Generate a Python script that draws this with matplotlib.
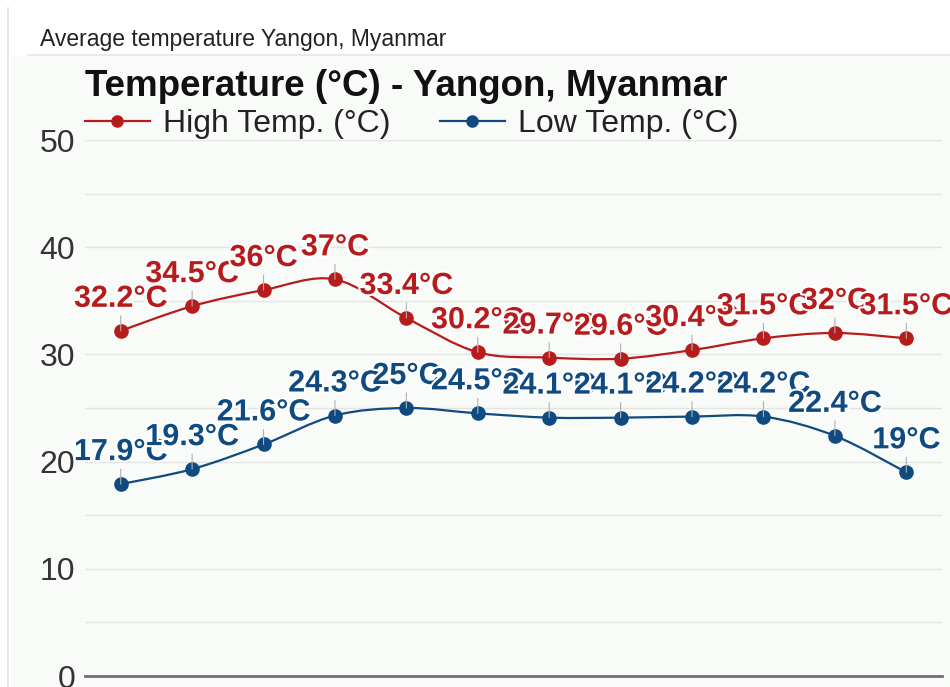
import numpy as np
import matplotlib
matplotlib.use("Agg")
import matplotlib.pyplot as plt
from matplotlib.path import Path
from matplotlib.patches import PathPatch, Rectangle
from matplotlib.lines import Line2D
import matplotlib.patheffects as pe

# Monthly averages for Yangon (Jan..Dec)
months = ["Jan", "Feb", "Mar", "Apr", "May", "Jun",
          "Jul", "Aug", "Sep", "Oct", "Nov", "Dec"]
high_temp = [32.2, 34.5, 36, 37, 33.4, 30.2, 29.7, 29.6, 30.4, 31.5, 32, 31.5]
low_temp = [17.9, 19.3, 21.6, 24.3, 25, 24.5, 24.1, 24.1, 24.2, 24.2, 22.4, 19]
y_ticks = [0, 10, 20, 30, 40, 50]

RED = "#b71c1c"
BLUE = "#0f4a80"
FONT = "Liberation Sans"


def spline_path(xs, ys, k=1 / 6):
    # smooth curve through the points using cubic bezier segments
    xs = np.asarray(xs, float)
    ys = np.asarray(ys, float)
    n = len(xs)
    verts = [(xs[0], ys[0])]
    codes = [Path.MOVETO]
    for i in range(n - 1):
        p0 = max(i - 1, 0)
        p3 = min(i + 2, n - 1)
        c1 = (xs[i] + (xs[i + 1] - xs[p0]) * k, ys[i] + (ys[i + 1] - ys[p0]) * k)
        c2 = (xs[i + 1] - (xs[p3] - xs[i]) * k, ys[i + 1] - (ys[p3] - ys[i]) * k)
        verts += [c1, c2, (xs[i + 1], ys[i + 1])]
        codes += [Path.CURVE4] * 3
    return Path(verts, codes)


fig = plt.figure(figsize=(9.5, 6.87), dpi=100)
fig.patch.set_facecolor("white")

# panel background, header separator and left border
fig.patches.append(Rectangle((10 / 950, 0), 1, 1 - 56 / 687, transform=fig.transFigure,
                             facecolor="#f9fbf9", edgecolor="none", zorder=-5))
fig.add_artist(Line2D([28 / 950, 1], [1 - 55 / 687] * 2, transform=fig.transFigure,
                      color="#e4e6e4", lw=1.2))
fig.add_artist(Line2D([8 / 950] * 2, [0, 1 - 8 / 687], transform=fig.transFigure,
                      color="#e2e2e2", lw=1.2))

fig.text(40 / 950, 1 - 46 / 687, "Average temperature Yangon, Myanmar",
         fontsize=16.5, family=FONT, color="#222222", va="baseline")
fig.text(85 / 950, 1 - 96 / 687, "Temperature (°C) - Yangon, Myanmar",
         fontsize=26.5, family=FONT, fontweight="bold", color="#111111", va="baseline")

ax = fig.add_axes([85 / 950, 11 / 687, 857 / 950, 536 / 687])
ax.set_facecolor("none")
x = np.arange(len(months))
ax.set_xlim(-0.5, len(months) - 0.5)
ax.set_ylim(0, 50)

ax.set_yticks(y_ticks)
ax.set_yticks(np.arange(5, 50, 10), minor=True)
ax.set_yticklabels([str(t) for t in y_ticks], fontsize=23, family=FONT, color="#333333")
ax.tick_params(axis="y", which="both", length=0, pad=7)
ax.set_xticks([])
ax.grid(axis="y", which="both", color="#e3e5e3", lw=1)
ax.set_axisbelow(True)
for side in ["top", "right", "left"]:
    ax.spines[side].set_visible(False)
ax.spines["bottom"].set_color("#707070")
ax.spines["bottom"].set_linewidth(2)

halo = [pe.withStroke(linewidth=3, foreground="white")]

for vals, color in [(high_temp, RED), (low_temp, BLUE)]:
    ax.add_patch(PathPatch(spline_path(x, vals), facecolor="none", edgecolor=color,
                           lw=1.6, zorder=3))
    ax.plot(x, vals, "o", color=color, markersize=9.5, zorder=4)
    for xi, v in zip(x, vals):
        # short gray leader above each point
        ax.annotate("", xy=(xi, v), xytext=(0, 15), textcoords="offset pixels",
                    arrowprops=dict(arrowstyle="-", color="#b0b0b0", lw=0.8,
                                    shrinkA=0, shrinkB=0), zorder=5)
    for xi, v in zip(x, vals):
        ax.annotate(f"{v:g}°C", xy=(xi, v), xytext=(0, 32), textcoords="offset pixels",
                    ha="center", va="center", fontsize=22, fontweight="bold",
                    family=FONT, color=color, path_effects=halo, zorder=6)

handles = [Line2D([], [], color=RED, marker="o", markersize=8, lw=1.6),
           Line2D([], [], color=BLUE, marker="o", markersize=8, lw=1.6)]
fig.legend(handles, ["High Temp. (°C)", "Low Temp. (°C)"], loc="center left",
           bbox_to_anchor=(85 / 950, 1 - 124 / 687), bbox_transform=fig.transFigure,
           ncol=2, frameon=False, prop=dict(family=FONT, size=23),
           handlelength=2.03, handletextpad=0.4, columnspacing=1.56,
           borderpad=0, borderaxespad=0, labelcolor="#222222")

fig.savefig("out.png", dpi=100, facecolor=fig.get_facecolor())
